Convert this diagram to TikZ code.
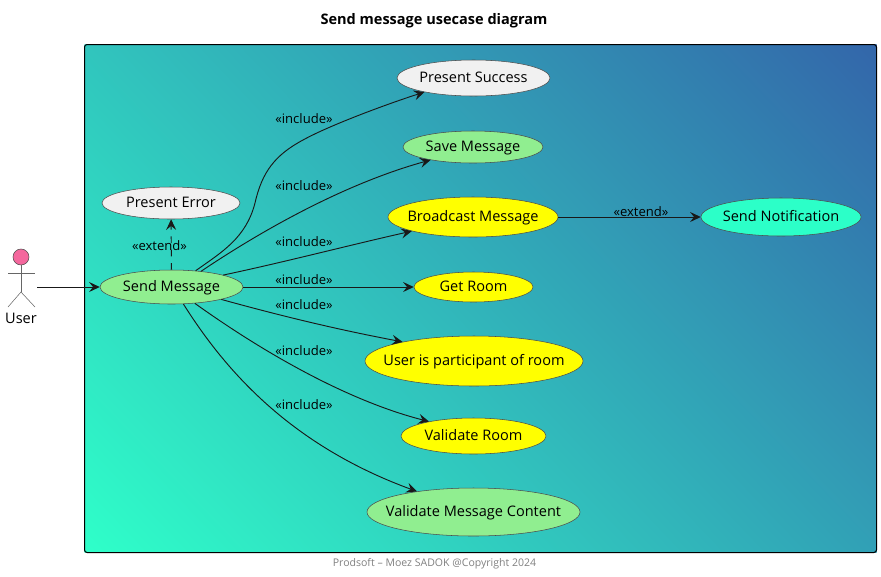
\documentclass[tikz,border=0pt]{standalone}
\usepackage{fontspec}
\setmainfont{Open Sans}
\usetikzlibrary{shapes.geometric, arrows.meta, shadings}
\definecolor{lowc}{HTML}{2FFFC9}
\definecolor{highc}{HTML}{3366AA}
\definecolor{uclight}{HTML}{F1F1F1}
\definecolor{ucgreen}{HTML}{90EE90}
\definecolor{uccyan}{HTML}{2CFFC8}
\definecolor{ucyellow}{HTML}{FFFF00}
\definecolor{ucpink}{HTML}{F4679D}
\newcommand{\uctext}[1]{\makebox[0pt]{\strut\raisebox{-1.1pt}[0pt][0pt]{#1}}}
\tikzstyle{usecase} = [ellipse, inner sep=0pt, draw=black!70, line width=0.4pt, font=\fontsize{10.9}{12}\selectfont, text=black]
\tikzstyle{ucsize} = [minimum width=#1*0.75pt]
\tikzstyle{arrow} = [line width=0.7pt, draw=black!90, -{Stealth[length=8pt, width=7.5pt, inset=3pt]}]
\tikzstyle{rel} = [font=\fontsize{9.8}{11}\selectfont, inner sep=0pt, text=black]
\begin{document}
\begin{tikzpicture}[x=0.75pt, y=-0.75pt]
        \useasboundingbox (0,0) rectangle (881,576);

        \node (title) [font=\bfseries\fontsize{10.9}{12}\selectfont] at (434,21) {\strut Send message usecase diagram};
        \node (foot) [font=\fontsize{7.9}{10}\selectfont, text=black!50] at (434.5,564) {\strut Prodsoft – Moez SADOK @Copyright 2024};

        \shade [lower left=lowc, upper right=highc, upper left=lowc!62!highc, lower right=lowc!38!highc] (84.5,44.5) rectangle (876.5,552.5);
        \draw [black, line width=0.75pt, rounded corners=2pt] (84.5,44.5) rectangle (876.5,552.5);

        % actor
        \node (head) [circle, draw=black!70, line width=0.4pt, fill=ucpink, minimum size=12pt, inner sep=0pt] at (21,257) {};
        \coordinate (neck) at (21,292);
        \coordinate (armL) at (8,273);
        \coordinate (armR) at (35,273);
        \coordinate (footL) at (8,307);
        \coordinate (footR) at (35,307);
        \draw [black!60, line width=0.4pt] (head) -- (neck);
        \draw [black!60, line width=0.4pt] (armL) -- (armR);
        \draw [black!60, line width=0.4pt] (footL) -- (neck) -- (footR);
        \node (user) [font=\fontsize{10.9}{12}\selectfont, inner sep=0pt] at (21,320) {\strut User};
        \coordinate (userR) at (37,287);

        \node (SM) [usecase, ucsize=143, minimum height=25.5pt, fill=ucgreen] at (171.5,287) {\uctext{Send Message}};
        \node (PE) [usecase, ucsize=138, minimum height=24pt, fill=uclight] at (171,203) {\uctext{Present Error}};
        \node (PS) [usecase, ucsize=153, minimum height=27pt, fill=uclight] at (473.5,78) {\uctext{Present Success}};
        \node (SAVE) [usecase, ucsize=140, minimum height=24pt, fill=ucgreen] at (473,147) {\uctext{Save Message}};
        \node (BM) [usecase, ucsize=170, minimum height=30pt, fill=ucyellow] at (473,217) {\uctext{Broadcast Message}};
        \node (GR) [usecase, ucsize=119, minimum height=22.5pt, fill=ucyellow] at (473.5,287) {\uctext{Get Room}};
        \node (UP) [usecase, ucsize=218, minimum height=37.5pt, fill=ucyellow] at (474,361) {\uctext{User is participant of room}};
        \node (VR) [usecase, ucsize=145, minimum height=27pt, fill=ucyellow] at (473.5,436) {\uctext{Validate Room}};
        \node (VM) [usecase, ucsize=213, minimum height=36pt, fill=ucgreen] at (473.5,512) {\uctext{Validate Message Content}};
        \node (SN) [usecase, ucsize=160, minimum height=28.5pt, fill=uccyan] at (781,217) {\uctext{Send Notification}};

        \draw [arrow] (userR) -- (SM);
        \draw [arrow, dashed, dash pattern=on 5pt off 5pt] (SM) -- (PE);
        \draw [arrow] (SM.34) .. controls (222,252) and (246,238) .. (255,203) .. controls (262,172) and (275,155) .. (303,140) .. controls (330,125) and (390,103) .. (PS.196);
        \draw [arrow] (SM.28) .. controls (255,235) and (340,185) .. (SAVE.197);
        \draw [arrow] (SM.13) .. controls (285,262) and (350,245) .. (BM.193);
        \draw [arrow] (SM) -- (GR);
        \draw [arrow] (SM.-14) .. controls (285,317) and (340,330) .. (UP.165);
        \draw [arrow] (SM.-35) .. controls (260,350) and (345,400) .. (VR.162);
        \draw [arrow] (SM.-55) .. controls (225,370) and (290,445) .. (VM.160);
        \draw [arrow] (BM) -- (SN);

        \node (inc1) [rel] at (304,121) {\strut «include»};
        \node (inc2) [rel] at (304,188) {\strut «include»};
        \node (inc3) [rel] at (304,244) {\strut «include»};
        \node (inc4) [rel] at (304,282) {\strut «include»};
        \node (inc5) [rel] at (304,307) {\strut «include»};
        \node (inc6) [rel] at (304,353) {\strut «include»};
        \node (inc7) [rel] at (304,407) {\strut «include»};
        \node (ext1) [rel] at (159.5,248) {\strut «extend»};
        \node (ext2) [rel] at (641,214) {\strut «extend»};

\end{tikzpicture}
\end{document}
